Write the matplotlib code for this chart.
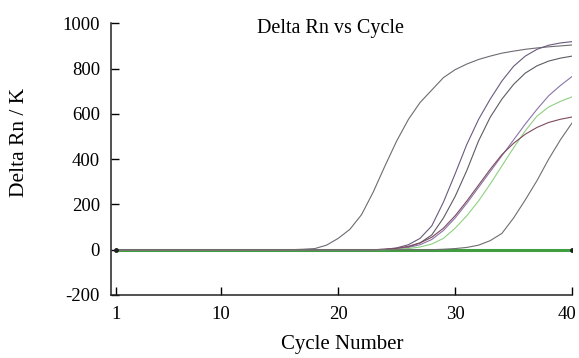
import matplotlib
matplotlib.use("Agg")
import matplotlib.pyplot as plt
from matplotlib.transforms import ScaledTranslation

# Amplification curves (Delta Rn), cycles 1..40
cycles = list(range(1, 41))

curve_a = [0] * 16 + [2, 5, 20, 50, 90, 155, 255, 370, 480, 575, 650, 705,
                      760, 795, 820, 840, 855, 868, 877, 885, 891, 896, 900, 904]
curve_b = [0] * 23 + [2, 8, 22, 50, 105, 210, 335, 465, 575, 665, 745, 810,
                      855, 885, 903, 913, 919]
curve_c = [0] * 23 + [1, 4, 12, 30, 65, 140, 235, 350, 480, 585, 665, 730,
                      780, 812, 833, 846, 855]
curve_d = [0] * 23 + [1, 4, 10, 22, 45, 85, 140, 205, 275, 345, 415, 485,
                      555, 620, 680, 725, 765]
curve_e = [0] * 24 + [2, 5, 12, 25, 50, 95, 150, 215, 290, 370, 450, 525,
                      590, 630, 655, 675]
curve_f = [0] * 23 + [2, 6, 15, 30, 55, 95, 150, 215, 285, 355, 420, 470,
                      510, 540, 562, 576, 586]
curve_g = [0] * 28 + [2, 5, 10, 20, 40, 72, 140, 220, 305, 400, 485, 560]
flat = [0] * 40

curves = [curve_a, curve_b, curve_c, curve_d, curve_e, curve_f, curve_g]
colors = ["#6e6a72", "#6a5a7c", "#5e5a62", "#8a74a6", "#8fd080", "#7e4a5e", "#6e6e6e"]

plt.rcParams["font.family"] = ["Liberation Serif", "DejaVu Serif"]
plt.rcParams["axes.unicode_minus"] = False

fig = plt.figure(figsize=(5.79, 3.58), dpi=100)
ax = fig.add_axes([0.1917, 0.176, 0.7963, 0.759])

# flat curves (no amplification)
ax.plot(cycles, flat, color="#3f9e3f", linewidth=2.2, zorder=2)
for y, c in zip(curves, colors):
    ax.plot(cycles, y, color=c, linewidth=0.8, zorder=3)
ax.plot([cycles[0], cycles[-1]], [flat[0], flat[-1]], "o", color="#202020",
        markersize=2.5, zorder=4)

ax.set_xlim(0.57, 40)
ax.set_ylim(-200, 1000)
ax.set_xticks([1, 10, 20, 30, 40])
ax.set_yticks(range(-200, 1001, 200))
ax.tick_params(direction="in", length=6, width=1, labelsize=13.5, pad=8)
for s in ["top", "right"]:
    ax.spines[s].set_visible(False)
for s in ["left", "bottom"]:
    ax.spines[s].set_linewidth(1.1)
    ax.spines[s].set_color("#222222")

# nudge the last x label so it stays inside the figure
fig.canvas.draw()
last = ax.get_xticklabels()[-1]
last.set_transform(last.get_transform() + ScaledTranslation(-5 / 100, 0, fig.dpi_scale_trans))

fig.text(342 / 579, 1 - 345 / 358, "Cycle Number", ha="center", va="center", fontsize=15)
fig.text(20 / 579, 1 - 142 / 358, "Delta Rn / K", ha="center", va="center",
         rotation=90, fontsize=15.5)
ax.text(0.477, 0.98, "Delta Rn vs Cycle", transform=ax.transAxes,
        ha="center", va="center", fontsize=14.5)

fig.savefig("out.png", dpi=100)
